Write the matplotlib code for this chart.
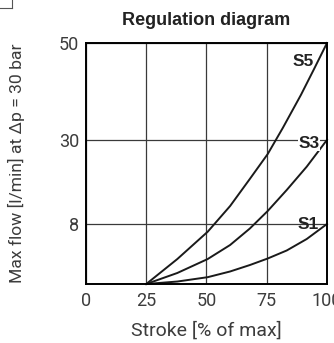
import numpy as np
import matplotlib
matplotlib.use("Agg")
import matplotlib.pyplot as plt
from matplotlib.lines import Line2D

# max flow curves [l/min] against stroke [% of max]
s1_stroke = [25, 37.9, 50.5, 59.8, 68, 75.4, 83.3, 91.6, 100]
s1_flow = [0, 0.33, 0.91, 1.67, 2.53, 3.4, 4.47, 6.0, 8]

s3_stroke = [25, 37.9, 50.5, 59.8, 68, 75.4, 83.3, 91.6, 100]
s3_flow = [0, 1.47, 3.33, 5.2, 7.4, 11.4, 16.9, 23.0, 30]

s5_stroke = [25, 37.9, 50.5, 59.8, 68, 75.4, 81.7, 89.2, 94.6, 100]
s5_flow = [0, 3.33, 6.97, 12.7, 19.8, 26.3, 32.5, 39.3, 44.6, 50]

curve_names = ["S1", "S3", "S5"]
x_ticks = [0, 25, 50, 75, 100]
y_ticks = [8, 30, 50]

# the diagram's y axis is not linear: tick values sit at these fractions of the height
y_scale_vals = [0, 8, 30, 50]
y_scale_pos = [0, 0.249, 0.598, 1.0]


def fwd(v):
    return np.interp(v, y_scale_vals, y_scale_pos)


def inv(p):
    return np.interp(p, y_scale_pos, y_scale_vals)


plt.rcParams['font.family'] = ['Liberation Sans', 'DejaVu Sans']
txt_grey = '#3c3c3c'

fig = plt.figure(figsize=(3.34, 3.43), dpi=100)
ax = fig.add_axes([0.2575, 0.172, 0.7215, 0.7026])
ax.set_yscale('function', functions=(fwd, inv))
ax.set_xlim(0, 100)
ax.set_ylim(0, 50)

ax.set_xticks(x_ticks)
ax.set_yticks(y_ticks)
ax.yaxis.set_minor_locator(matplotlib.ticker.NullLocator())
ax.tick_params(length=0, labelsize=13, labelcolor=txt_grey)
ax.tick_params(axis='y', pad=5)
ax.tick_params(axis='x', pad=6)
for lab in ax.get_xticklabels() + ax.get_yticklabels():
    lab.set_fontfamily('Roboto')
ax.grid(True, color='#3a3a3a', linewidth=0.9)
ax.set_axisbelow(True)
for sp in ax.spines.values():
    sp.set_linewidth(1.4)
    sp.set_color('black')

for xs, flow in [(s1_stroke, s1_flow), (s3_stroke, s3_flow), (s5_stroke, s5_flow)]:
    ax.plot(xs, flow, color='#1a1a1a', linewidth=1.4, clip_on=False,
            solid_joinstyle='round')

# curve labels
lab_kw = dict(transform=ax.transAxes, ha='center', va='center', fontsize=12.5,
              fontweight='bold', color='#222222', zorder=5)
ax.text(0.9, 0.925, curve_names[2], **lab_kw)
ax.text(0.925, 0.585, curve_names[1], bbox=dict(facecolor='white', edgecolor='none', pad=0.3),
        **lab_kw)
ax.text(0.92, 0.245, curve_names[0], **lab_kw)

ax.set_title("Regulation diagram", fontsize=13, fontweight='bold', color='#222222', pad=13)
ax.set_xlabel("Stroke [% of max]", fontsize=14, color=txt_grey, labelpad=8,
              fontfamily='Roboto')
ax.set_ylabel("Max flow [l/min] at \u0394p = 30 bar", fontsize=12.6, color=txt_grey,
              fontfamily='Roboto')
ax.yaxis.set_label_coords(-0.255, 0.5)

# small crop artifact in the top-left corner
fig.add_artist(Line2D([0, 12 / 334], [1 - 8 / 343, 1 - 8 / 343], color='#555555', linewidth=0.8))
fig.add_artist(Line2D([12 / 334, 12 / 334], [1 - 8 / 343, 1], color='#555555', linewidth=0.8))

fig.savefig("out.png", dpi=100)
